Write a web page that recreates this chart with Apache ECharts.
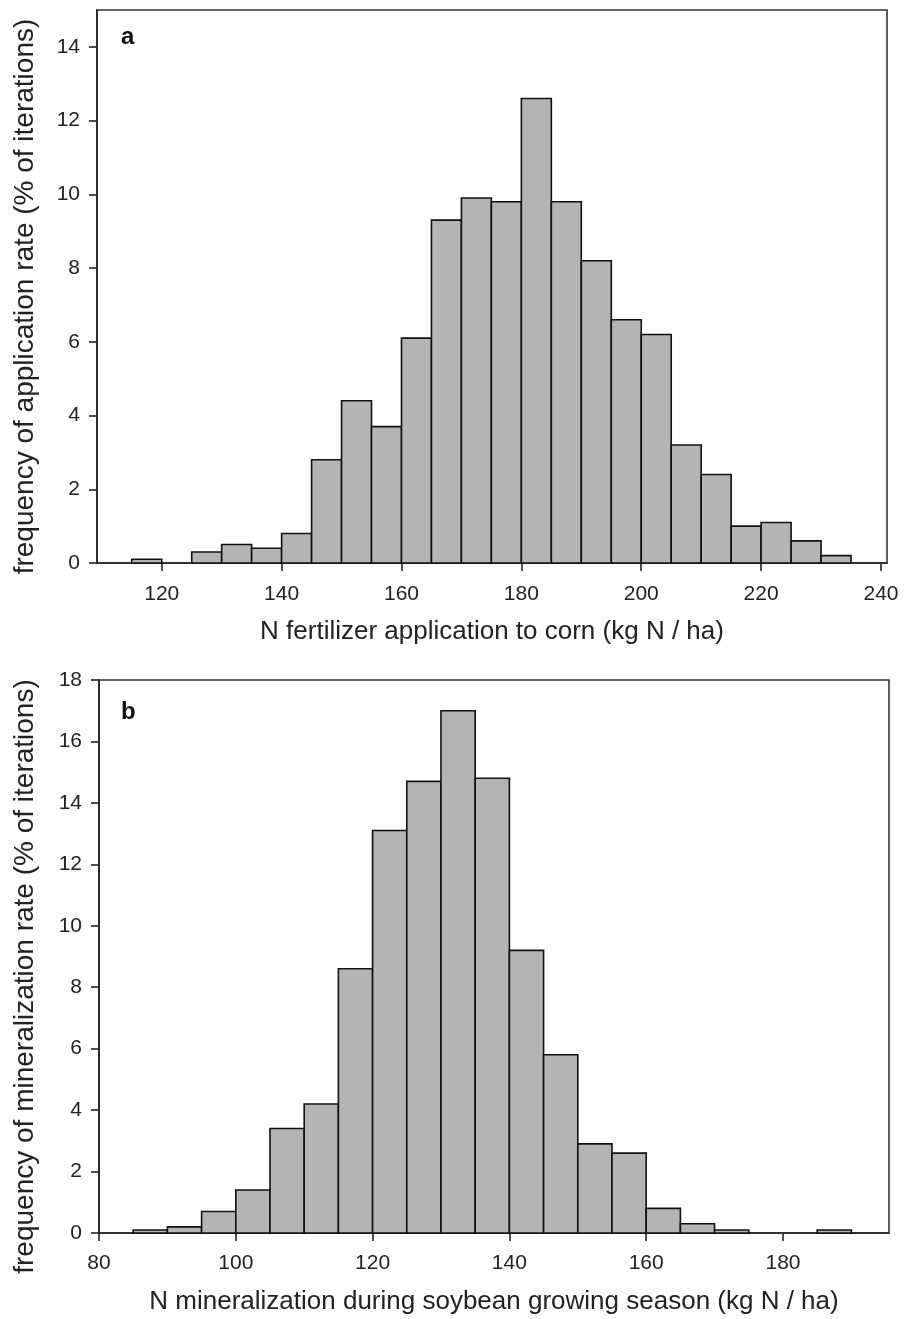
<!DOCTYPE html>
<html>
<head>
<meta charset="utf-8">
<script src="https://cdn.jsdelivr.net/npm/echarts@6/dist/echarts.min.js"></script>
<style>
  html, body { margin: 0; padding: 0; background: #fff; }
  #chart { width: 910px; height: 1319px; }
</style>
</head>
<body>
<div id="chart"></div>
<script>
// bin start values (width 5) and heights, % of iterations
const binWidth = 5;
const binStartsA = [115, 120, 125, 130, 135, 140, 145, 150, 155, 160, 165, 170, 175, 180, 185, 190, 195, 200, 205, 210, 215, 220, 225, 230];
const freqA = [0.1, 0, 0.3, 0.5, 0.4, 0.8, 2.8, 4.4, 3.7, 6.1, 9.3, 9.9, 9.8, 12.6, 9.8, 8.2, 6.6, 6.2, 3.2, 2.4, 1.0, 1.1, 0.6, 0.2];

const binStartsB = [85, 90, 95, 100, 105, 110, 115, 120, 125, 130, 135, 140, 145, 150, 155, 160, 165, 170, 175, 180, 185];
const freqB = [0.1, 0.2, 0.7, 1.4, 3.4, 4.2, 8.6, 13.1, 14.7, 17.0, 14.8, 9.2, 5.8, 2.9, 2.6, 0.8, 0.3, 0.1, 0, 0, 0.1];

const xTicksA = [120, 140, 160, 180, 200, 220, 240];
const yTicksA = [0, 2, 4, 6, 8, 10, 12, 14];
const xTicksB = [80, 100, 120, 140, 160, 180];
const yTicksB = [0, 2, 4, 6, 8, 10, 12, 14, 16, 18];

const font = "Liberation Sans, Arial, sans-serif";
const textColor = "#222";

function toBins(starts, values) {
  return starts
    .map((s, i) => [s, s + binWidth, values[i]])
    .filter((d) => d[2] > 0);
}

function renderBin(params, api) {
  const p0 = api.coord([api.value(0), 0]);
  const p1 = api.coord([api.value(1), api.value(2)]);
  return {
    type: "rect",
    shape: { x: p0[0], y: p1[1], width: p1[0] - p0[0], height: p0[1] - p1[1] },
    style: { fill: "#b4b4b4", stroke: "#111", lineWidth: 1.6 },
  };
}

function xAxis(gridIndex, min, max, ticks, name, labelMargin) {
  return {
    type: "value",
    gridIndex: gridIndex,
    min: min,
    max: max,
    name: name,
    nameLocation: "middle",
    nameGap: 56,
    nameTextStyle: { fontFamily: font, fontSize: 26, color: textColor },
    splitLine: { show: false },
    axisLine: { show: true, lineStyle: { color: "#222", width: 1.6 } },
    axisTick: { show: true, length: 8, lineStyle: { color: "#222", width: 1.6 }, customValues: ticks },
    axisLabel: { fontFamily: font, fontSize: 21, color: textColor, margin: labelMargin, customValues: ticks },
  };
}

function yAxis(gridIndex, max, ticks, name, nameGap, shift) {
  return {
    type: "value",
    gridIndex: gridIndex,
    min: 0,
    max: max,
    name: name,
    nameLocation: "middle",
    nameGap: nameGap,
    // padding on the right moves the rotated title downward
    nameTextStyle: { fontFamily: font, fontSize: 28, color: textColor, padding: [0, shift, 0, 0] },
    splitLine: { show: false },
    axisLine: { show: true, lineStyle: { color: "#222", width: 1.6 } },
    axisTick: { show: true, length: 8, lineStyle: { color: "#222", width: 1.6 }, customValues: ticks },
    axisLabel: { fontFamily: font, fontSize: 21, color: textColor, margin: 17, customValues: ticks },
  };
}

const chart = echarts.init(document.getElementById("chart"), null, { renderer: "canvas" });

chart.setOption({
  animation: false,
  backgroundColor: "#fff",
  title: [
    { text: "a", left: 116, top: 20, textStyle: { fontFamily: font, fontSize: 24, fontWeight: "bold", color: "#111" } },
    { text: "b", left: 116, top: 695, textStyle: { fontFamily: font, fontSize: 24, fontWeight: "bold", color: "#111" } },
  ],
  grid: [
    { left: 97, top: 10, width: 790, height: 553, show: true, borderColor: "#333", borderWidth: 1.6, backgroundColor: "transparent" },
    { left: 99, top: 680, width: 790, height: 553, show: true, borderColor: "#333", borderWidth: 1.6, backgroundColor: "transparent" },
  ],
  xAxis: [
    xAxis(0, 109.2, 241, xTicksA, "N fertilizer application to corn (kg N / ha)", 21),
    xAxis(1, 80, 195.5, xTicksB, "N mineralization during soybean growing season (kg N / ha)", 20),
  ],
  yAxis: [
    yAxis(0, 15, yTicksA, "frequency of application rate (% of iterations)", 58, 20),
    yAxis(1, 18, yTicksB, "frequency of mineralization rate (% of iterations)", 60, 40),
  ],
  series: [
    {
      type: "custom",
      xAxisIndex: 0,
      yAxisIndex: 0,
      renderItem: renderBin,
      encode: { x: [0, 1], y: 2 },
      data: toBins(binStartsA, freqA),
    },
    {
      type: "custom",
      xAxisIndex: 1,
      yAxisIndex: 1,
      renderItem: renderBin,
      encode: { x: [0, 1], y: 2 },
      data: toBins(binStartsB, freqB),
    },
  ],
});
</script>
</body>
</html>
